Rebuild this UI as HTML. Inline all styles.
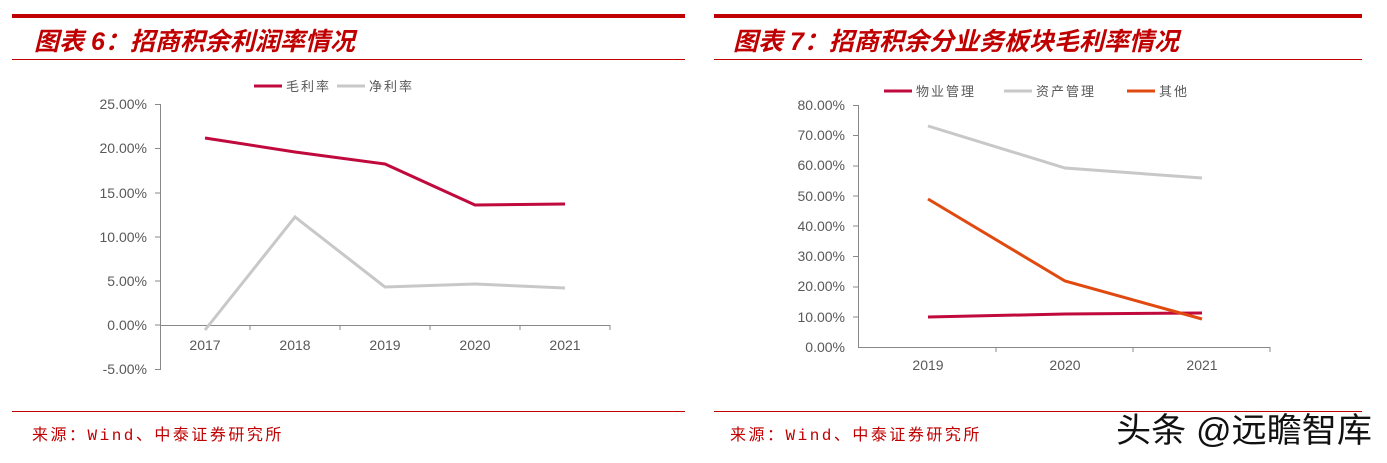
<!DOCTYPE html>
<html><head><meta charset="utf-8"><style>
body{margin:0;background:#fff;width:1387px;height:458px;overflow:hidden}
svg text{font-family:"Liberation Sans","Noto Sans CJK SC",sans-serif}
svg text.src{font-family:"Liberation Mono","Noto Sans CJK SC",monospace;letter-spacing:2.5px}
svg text.lg{letter-spacing:2px}
</style></head><body>
<svg width="1387" height="458" viewBox="0 0 1387 458">
<rect x="12" y="14" width="673" height="4" fill="#c00000"/>
<text x="34" y="50" font-size="25" font-weight="bold" font-style="italic" fill="#c00000">图表 6：招商积余利润率情况</text>
<line x1="12" y1="59.5" x2="685" y2="59.5" stroke="#c00000" stroke-width="1"/>
<line x1="12" y1="411.5" x2="685" y2="411.5" stroke="#c00000" stroke-width="1"/>
<text class="src" x="32" y="440" font-size="16" fill="#c00000">来源：Wind、中泰证券研究所</text>
<g font-size="14" fill="#595959" text-anchor="end">
<text x="147" y="109">25.00%</text><text x="147" y="153">20.00%</text><text x="147" y="198">15.00%</text>
<text x="147" y="242">10.00%</text><text x="147" y="286">5.00%</text><text x="147" y="330">0.00%</text><text x="147" y="374">-5.00%</text>
</g>
<g stroke="#888" stroke-width="1" fill="none">
<path d="M155 104.5H160.5V369.5H155"/>
<path d="M155 148.5H160M155 193H160M155 237H160M155 281H160M155 325H160"/>
<path d="M160 325.5H610"/>
<path d="M250 325V330M340 325V330M430 325V330M520 325V330M610 325V330"/>
</g>
<g font-size="14" fill="#595959" text-anchor="middle">
<text x="205" y="350">2017</text><text x="295" y="350">2018</text><text x="385" y="350">2019</text><text x="475" y="350">2020</text><text x="565" y="350">2021</text>
</g>
<polyline points="205,138 295,152 385,164 475,205 565,204" fill="none" stroke="#c0093c" stroke-width="3"/>
<polyline points="205,330 295,217 385,287 475,284 565,288" fill="none" stroke="#c8c8c8" stroke-width="3"/>
<line x1="254" y1="86" x2="282" y2="86" stroke="#c0093c" stroke-width="3"/>
<text class="lg" x="286" y="91" font-size="13" fill="#595959">毛利率</text>
<line x1="337" y1="86" x2="365" y2="86" stroke="#c8c8c8" stroke-width="3"/>
<text class="lg" x="369" y="91" font-size="13" fill="#595959">净利率</text>

<rect x="714" y="14" width="648" height="4" fill="#c00000"/>
<text x="733" y="50" font-size="25" font-weight="bold" font-style="italic" fill="#c00000">图表 7：招商积余分业务板块毛利率情况</text>
<line x1="714" y1="59.5" x2="1362" y2="59.5" stroke="#c00000" stroke-width="1"/>
<line x1="714" y1="411.5" x2="1362" y2="411.5" stroke="#c00000" stroke-width="1"/>
<text class="src" x="730" y="440" font-size="16" fill="#c00000">来源：Wind、中泰证券研究所</text>
<text x="1116" y="442" font-size="34" fill="#111" textLength="256" lengthAdjust="spacingAndGlyphs">头条 @远瞻智库</text>
<g font-size="14" fill="#595959" text-anchor="end">
<text x="845" y="110">80.00%</text><text x="845" y="140">70.00%</text><text x="845" y="170">60.00%</text><text x="845" y="201">50.00%</text>
<text x="845" y="231">40.00%</text><text x="845" y="261">30.00%</text><text x="845" y="291">20.00%</text><text x="845" y="322">10.00%</text><text x="845" y="352">0.00%</text>
</g>
<g stroke="#888" stroke-width="1" fill="none">
<path d="M853 105.5H858.5V347.5H1270"/>
<path d="M853 135.5H858M853 166H858M853 196H858M853 226H858M853 256.5H858M853 287H858M853 317H858"/>
<path d="M996 347V352M1133 347V352M1270 347V352"/>
</g>
<g font-size="14" fill="#595959" text-anchor="middle">
<text x="928" y="370">2019</text><text x="1065" y="370">2020</text><text x="1202" y="370">2021</text>
</g>
<polyline points="928,317 1065,314 1202,313" fill="none" stroke="#c0093c" stroke-width="3"/>
<polyline points="928,126 1065,168 1202,178" fill="none" stroke="#c8c8c8" stroke-width="3"/>
<polyline points="928,199 1065,281 1202,319" fill="none" stroke="#e04a10" stroke-width="3"/>
<line x1="884" y1="91" x2="912" y2="91" stroke="#c0093c" stroke-width="3"/>
<text class="lg" x="916" y="96" font-size="13" fill="#595959">物业管理</text>
<line x1="1004" y1="91" x2="1032" y2="91" stroke="#c8c8c8" stroke-width="3"/>
<text class="lg" x="1036" y="96" font-size="13" fill="#595959">资产管理</text>
<line x1="1127" y1="91" x2="1155" y2="91" stroke="#e04a10" stroke-width="3"/>
<text class="lg" x="1159" y="96" font-size="13" fill="#595959">其他</text>
</svg>
</body></html>
